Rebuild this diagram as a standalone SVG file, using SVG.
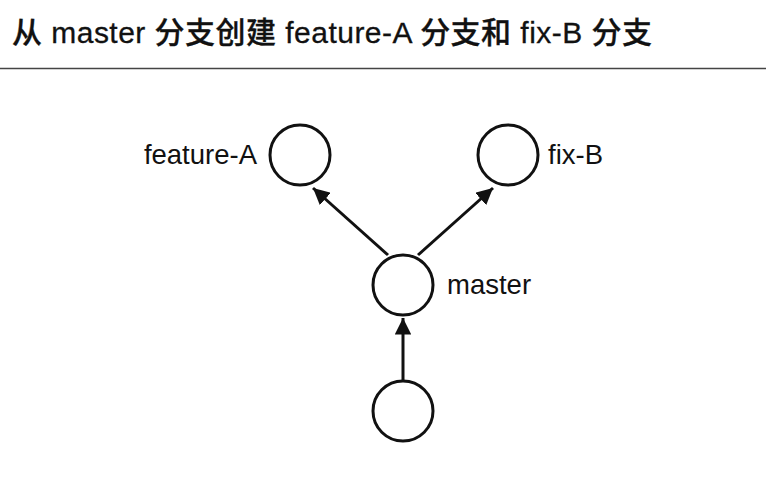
<svg xmlns="http://www.w3.org/2000/svg" width="766" height="486" viewBox="0 0 766 486">
<defs>
<style>
.node{fill:#fff;stroke:#111;stroke-width:3}
.lbl{font-family:"Liberation Sans","Noto Sans CJK SC",sans-serif;font-size:27.5px;fill:#111}
.title{font-family:"Liberation Sans","Noto Sans CJK SC",sans-serif;font-size:30px;font-weight:500;fill:#111}
.edge{stroke:#111;stroke-width:3;fill:none}
</style>
<marker id="ah" viewBox="0 0 10 10" refX="10" refY="5" markerWidth="5.5" markerHeight="5.5" markerUnits="strokeWidth" orient="auto">
<path d="M0,0 L10,5 L0,10 z" fill="#111"/>
</marker>
</defs>
<rect width="766" height="486" fill="#fff"/>
<text class="title" x="12" y="43" textLength="640" lengthAdjust="spacing" stroke="#111" stroke-width="0.3">从 master 分支创建 feature-A 分支和 fix-B 分支</text>
<line x1="0" y1="68.5" x2="766" y2="68.5" stroke="#444" stroke-width="1.5"/>
<g id="connectors">
<line class="edge" x1="403" y1="380" x2="403" y2="318" marker-end="url(#ah)"/>
<line class="edge" x1="388" y1="255" x2="313" y2="188" marker-end="url(#ah)"/>
<line class="edge" x1="418" y1="255" x2="493" y2="188" marker-end="url(#ah)"/>
</g>
<g id="node-feature-A">
<circle class="node" cx="300" cy="155" r="30"/>
<text class="lbl" x="257" y="164" text-anchor="end">feature-A</text>
</g>
<g id="node-fix-B">
<circle class="node" cx="508" cy="155" r="30"/>
<text class="lbl" x="548" y="164">fix-B</text>
</g>
<g id="node-master">
<circle class="node" cx="403" cy="285" r="30"/>
<text class="lbl" x="447" y="294">master</text>
</g>
<g id="node-base">
<circle class="node" cx="403" cy="411" r="30"/>
</g>
</svg>
